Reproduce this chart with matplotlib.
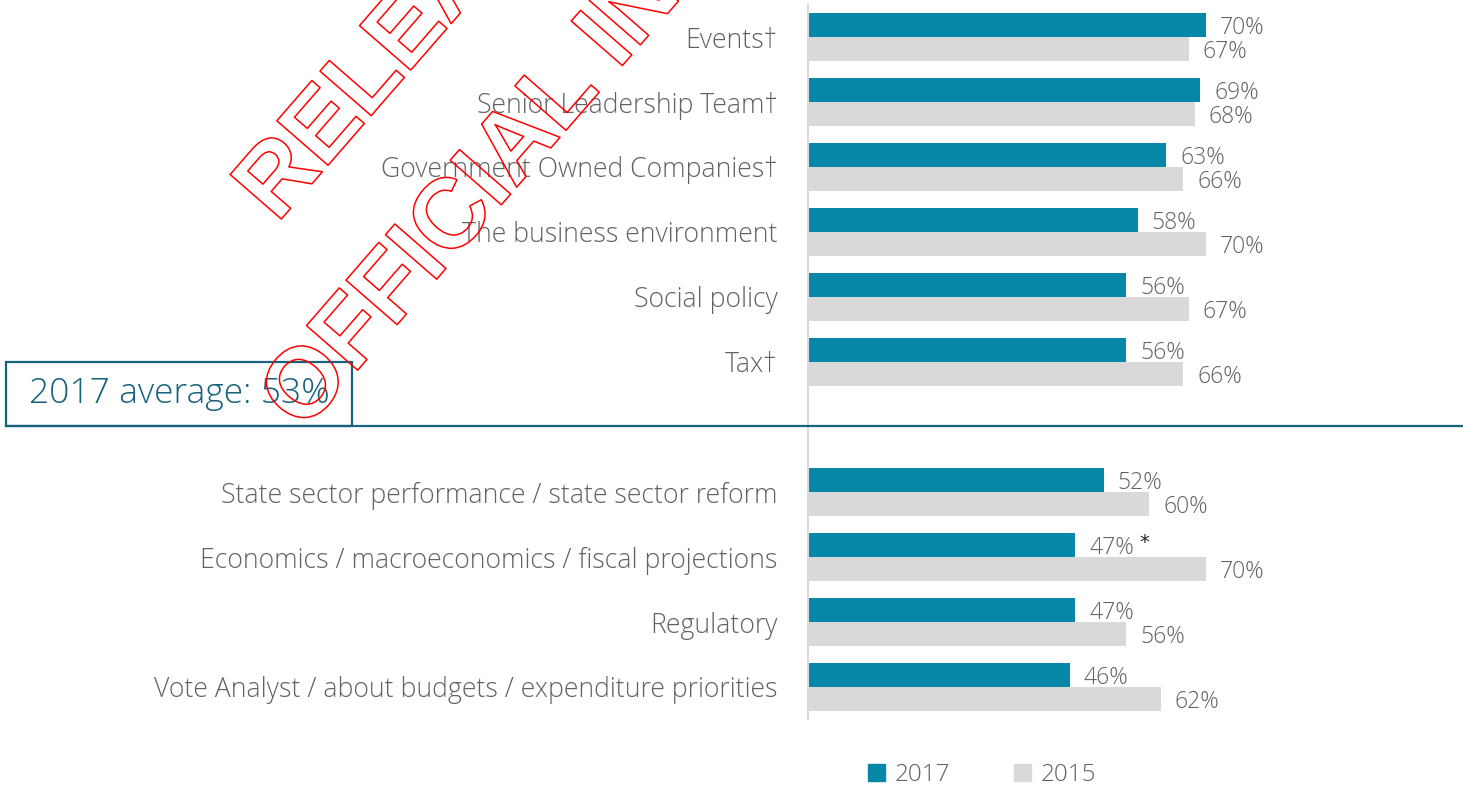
import numpy as np
import matplotlib
matplotlib.use("Agg")
import matplotlib.pyplot as plt
from matplotlib.patches import Patch, Rectangle
from matplotlib.lines import Line2D
import matplotlib.patheffects as pe

# Data
categories = [
    "Events\u2020",
    "Senior Leadership Team\u2020",
    "Government Owned Companies\u2020",
    "The business environment",
    "Social policy",
    "Tax\u2020",
    "State sector performance / state sector reform",
    "Economics / macroeconomics / fiscal projections",
    "Regulatory",
    "Vote Analyst / about budgets / expenditure priorities",
]
pct_2017 = [70, 69, 63, 58, 56, 56, 52, 47, 47, 46]
pct_2015 = [67, 68, 66, 70, 67, 66, 60, 70, 56, 62]
series_names = ["2017", "2015"]
average_text = "2017 average: 53%"
n_above_avg = 6
flagged = 7  # significant-change marker

TEAL = "#0787a8"
GREY_BAR = "#d9d9d9"
TEXT = "#626262"
DARK_TEAL = "#17637e"
FONT = "Open Sans"

W, H = 1463, 788
fig = plt.figure(figsize=(W / 100, H / 100), dpi=100)

# slot positions: one empty slot where the average line sits
slots = np.array([i if i < n_above_avg else i + 1 for i in range(len(categories))], dtype=float)

# axes in pixel layout
top_px, bot_px, left_px = 5, 719, 808
ax = fig.add_axes([left_px / W, 1 - bot_px / H, (W - left_px) / W, (bot_px - top_px) / H])
slot_px = 65.0
first_center = 37.0
ax.set_ylim((bot_px - first_center) / slot_px, (top_px - first_center) / slot_px)
px_per_pct = 398 / 70.0
ax.set_xlim(0, (W - left_px) / px_per_pct)

bh = 24 / slot_px
ax.barh(slots - bh / 2, pct_2017, height=bh, color=TEAL, label=series_names[0])
ax.barh(slots + bh / 2, pct_2015, height=bh, color=GREY_BAR, label=series_names[1])

for y, a, b in zip(slots, pct_2017, pct_2015):
    ax.annotate(f"{a}%", (a, y - bh / 2), xytext=(10, -2), textcoords="offset points",
                ha="left", va="center", fontsize=16.5, color=TEXT, family=FONT, fontweight="light")
    ax.annotate(f"{b}%", (b, y + bh / 2), xytext=(10, -2), textcoords="offset points",
                ha="left", va="center", fontsize=16.5, color=TEXT, family=FONT, fontweight="light")

# asterisk marker
ax.annotate("*", (pct_2017[flagged], slots[flagged] - bh / 2), xytext=(46, 2),
            textcoords="offset points", ha="left", va="center", fontsize=14, color="#222222")

ax.set_yticks(slots)
ax.set_yticklabels(categories, fontsize=19.2, color=TEXT, family=FONT, fontweight="light")
ax.tick_params(axis="y", length=0, pad=22)
ax.set_xticks([])
for s in ["top", "right", "bottom"]:
    ax.spines[s].set_visible(False)
ax.spines["left"].set_color(GREY_BAR)
ax.spines["left"].set_linewidth(1.5)

# average divider line and box
line_y = 1 - 425.5 / H
fig.add_artist(Line2D([6 / W, 1], [line_y, line_y], color=DARK_TEAL, lw=1.6))
fig.add_artist(Rectangle((6 / W, line_y), (352 - 6) / W, (425.5 - 362) / H,
                         fill=False, edgecolor=DARK_TEAL, lw=1.6))
fig.text(179 / W, 1 - 394 / H, average_text, ha="center", va="center",
         fontsize=25.5, color=DARK_TEAL, family=FONT, fontweight="light")

# legend
handles = [Patch(color=TEAL), Patch(color=GREY_BAR)]
fig.legend(handles, series_names, loc="center", bbox_to_anchor=(982 / W, 1 - 775 / H),
           ncol=2, frameon=False, handlelength=0.7, handleheight=0.7,
           handletextpad=0.4, columnspacing=2.6,
           prop={"family": FONT, "size": 17.5, "weight": "light"}, labelcolor=TEXT)

# watermark
wm = [pe.withStroke(linewidth=1.1, foreground="red")]
fig.text(277 / W, 1 - 224 / H, "RELEASED UNDER THE", rotation=49, rotation_mode="anchor",
         ha="left", va="baseline", fontsize=71, fontweight="bold", family="Liberation Sans",
         color="none", path_effects=wm)
fig.text(303 / W, 1 - 433 / H, "OFFICIAL INFORMATION ACT", rotation=49, rotation_mode="anchor",
         ha="left", va="baseline", fontsize=71, fontweight="bold", family="Liberation Sans",
         color="none", path_effects=wm)

fig.savefig("out.png", dpi=100)
